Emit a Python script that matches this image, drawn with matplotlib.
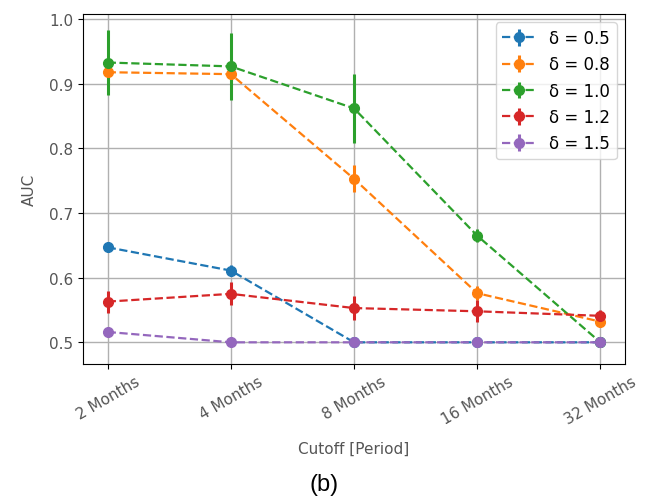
import matplotlib
matplotlib.use("Agg")
import matplotlib.pyplot as plt
import numpy as np

categories = ["2 Months", "4 Months", "8 Months", "16 Months", "32 Months"]
labels = ["δ = 0.5", "δ = 0.8", "δ = 1.0", "δ = 1.2", "δ = 1.5"]

auc_05 = [0.647, 0.611, 0.500, 0.500, 0.500]
err_05 = [0.008, 0.009, 0.004, 0.004, 0.004]
auc_08 = [0.918, 0.915, 0.753, 0.576, 0.532]
err_08 = [0.010, 0.010, 0.021, 0.011, 0.008]
auc_10 = [0.933, 0.927, 0.862, 0.665, 0.500]
err_10 = [0.051, 0.052, 0.053, 0.010, 0.004]
auc_12 = [0.563, 0.575, 0.553, 0.548, 0.541]
err_12 = [0.017, 0.018, 0.018, 0.017, 0.009]
auc_15 = [0.516, 0.500, 0.500, 0.500, 0.500]
err_15 = [0.006, 0.004, 0.004, 0.004, 0.004]

series = [auc_05, auc_08, auc_10, auc_12, auc_15]
errors = [err_05, err_08, err_10, err_12, err_15]
colors = ["#1f77b4", "#ff7f0e", "#2ca02c", "#d62728", "#9467bd"]

fig = plt.figure(figsize=(6.49, 5.02), dpi=100)
ax = fig.add_axes([0.128, 0.273, 0.835, 0.697])
x = np.arange(len(categories))
for vals, errs, c, lab in zip(series, errors, colors, labels):
    ax.errorbar(x, vals, yerr=errs, fmt="o--", color=c, label=lab,
                markersize=7, elinewidth=2.2, linewidth=1.6)

ax.set_xticks(x)
ax.set_xticklabels(categories, rotation=30, ha="center", fontsize=11,
                   color="#555555")
ax.tick_params(axis="y", labelsize=11, labelcolor="#555555")
ax.set_yticks([0.5, 0.6, 0.7, 0.8, 0.9, 1.0])
ax.set_ylim(0.4665, 1.008)
ax.set_xlim(-0.2, 4.2)
ax.grid(True, color="#b0b0b0", linewidth=1.0)
ax.set_ylabel("AUC", fontsize=11, color="#555555", labelpad=9)
ax.set_xlabel("Cutoff [Period]", fontsize=11, color="#555555", labelpad=10)
leg = ax.legend(loc="upper right", fontsize=12)

fig.text(0.5, 0.034, "(b)", ha="center", va="center", fontsize=17,
         family="Liberation Sans")
fig.savefig("out.png", dpi=100)
